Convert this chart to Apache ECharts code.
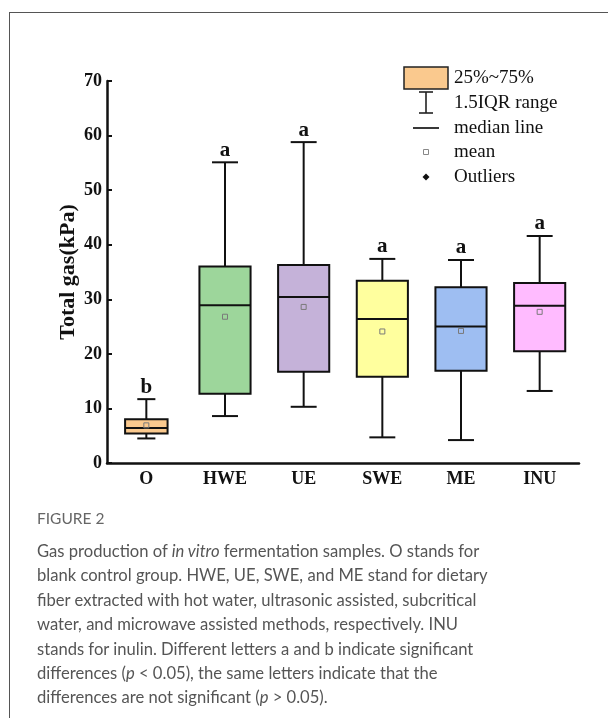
<!DOCTYPE html>
<html>
<head>
<meta charset="utf-8">
<script src="https://cdn.jsdelivr.net/npm/echarts@6/dist/echarts.min.js"></script>
<style>
  html, body { margin: 0; padding: 0; background: #fff; }
  #wrap { position: relative; width: 608px; height: 718px; overflow: hidden; }
  #frame { position: absolute; left: 9px; top: 12px; width: 700px; height: 800px; border: 1.3px solid #555; box-sizing: border-box; }
  #chart { position: absolute; left: 0; top: 0; width: 608px; height: 718px; }
  #figlabel { position: absolute; left: 37px; top: 509px; font-family: Lato, sans-serif; font-size: 15.5px; color: #666; }
  #caption { position: absolute; left: 37px; top: 539px; width: 565px; font-family: Lato, sans-serif; font-size: 16.6px; line-height: 24.4px; color: #555; }
</style>
</head>
<body>
<div id="wrap">
  <div id="frame"></div>
  <div id="chart"></div>
  <div id="figlabel">FIGURE 2</div>
  <div id="caption">Gas production of <i>in vitro</i> fermentation samples. O stands for<br>blank control group. HWE, UE, SWE, and ME stand for dietary<br>fiber extracted with hot water, ultrasonic assisted, subcritical<br>water, and microwave assisted methods, respectively. INU<br>stands for inulin. Different letters a and b indicate significant<br>differences (<i>p</i> &lt; 0.05), the same letters indicate that the<br>differences are not significant (<i>p</i> &gt; 0.05).</div>
</div>
<script>
// ---- data ----
var categories = ['O', 'HWE', 'UE', 'SWE', 'ME', 'INU'];
var whiskerLow = [4.5, 8.6, 10.3, 4.7, 4.2, 13.2];
var q1 = [5.4, 12.7, 16.7, 15.8, 16.9, 20.5];
var median = [6.4, 28.9, 30.4, 26.4, 25.0, 28.8];
var q3 = [8.0, 36.0, 36.3, 33.4, 32.2, 33.0];
var whiskerHigh = [11.7, 55.1, 58.8, 37.4, 37.2, 41.6];
var means = [6.9, 26.8, 28.6, 24.1, 24.2, 27.7];
var letters = ['b', 'a', 'a', 'a', 'a', 'a'];
var yTicks = [0, 10, 20, 30, 40, 50, 60, 70];

// ---- style ----
var boxColors = ['#FAC98E', '#9DD69B', '#C5B2D9', '#FFFF9E', '#9EBEF2', '#FFBBFF'];
var boxWidthFrac = [0.54, 0.65, 0.65, 0.65, 0.65, 0.65];
var capWidthFrac = [0.23, 0.33, 0.33, 0.33, 0.33, 0.33];
var serif = '"Liberation Serif", "Times New Roman", serif';

var seriesData = categories.map(function (c, i) {
  return [i, whiskerLow[i], q1[i], median[i], q3[i], whiskerHigh[i], means[i]];
});

var chart = echarts.init(document.getElementById('chart'), null, { renderer: 'canvas' });

function renderItem(params, api) {
  var idx = api.value(0);
  var band = api.size([1, 0])[0];
  var x = api.coord([idx, 0])[0];
  var pLow = api.coord([idx, api.value(1)])[1];
  var pQ1 = api.coord([idx, api.value(2)])[1];
  var pMed = api.coord([idx, api.value(3)])[1];
  var pQ3 = api.coord([idx, api.value(4)])[1];
  var pHigh = api.coord([idx, api.value(5)])[1];
  var pMean = api.coord([idx, api.value(6)])[1];
  var bw = band * boxWidthFrac[idx];
  var cw = band * capWidthFrac[idx];
  var stroke = { stroke: '#111', lineWidth: 2 };
  return {
    type: 'group',
    children: [
      { type: 'line', shape: { x1: x, y1: pHigh, x2: x, y2: pQ3 }, style: stroke },
      { type: 'line', shape: { x1: x, y1: pLow, x2: x, y2: pQ1 }, style: stroke },
      { type: 'line', shape: { x1: x - cw / 2, y1: pHigh, x2: x + cw / 2, y2: pHigh }, style: stroke },
      { type: 'line', shape: { x1: x - cw / 2, y1: pLow, x2: x + cw / 2, y2: pLow }, style: stroke },
      { type: 'rect', shape: { x: x - bw / 2, y: pQ3, width: bw, height: pQ1 - pQ3 },
        style: { fill: boxColors[idx], stroke: '#111', lineWidth: 2 } },
      { type: 'line', shape: { x1: x - bw / 2, y1: pMed, x2: x + bw / 2, y2: pMed }, style: stroke },
      { type: 'rect', shape: { x: x - 2.5, y: pMean - 2.5, width: 5, height: 5 },
        style: { fill: 'none', stroke: '#7a7a7a', lineWidth: 1 } },
      { type: 'text', x: x, y: pHigh - 12,
        style: { text: letters[idx], fill: '#111', font: 'bold 21px ' + serif, align: 'center', verticalAlign: 'middle' } }
    ]
  };
}

var legendX = 426;
var legendTextX = 454;
var legendRows = [78, 103, 128, 152, 177];
var legendLabels = ['25%~75%', '1.5IQR range', 'median line', 'mean', 'Outliers'];

var graphics = [
  { type: 'rect', shape: { x: 404, y: 67, width: 44, height: 22 }, style: { fill: boxColors[0], stroke: '#222', lineWidth: 1.5 } },
  { type: 'line', shape: { x1: legendX, y1: 92, x2: legendX, y2: 113 }, style: { stroke: '#222', lineWidth: 1.6 } },
  { type: 'line', shape: { x1: legendX - 7, y1: 92, x2: legendX + 7, y2: 92 }, style: { stroke: '#222', lineWidth: 1.6 } },
  { type: 'line', shape: { x1: legendX - 7, y1: 113, x2: legendX + 7, y2: 113 }, style: { stroke: '#222', lineWidth: 1.6 } },
  { type: 'line', shape: { x1: 413, y1: 128, x2: 439, y2: 128 }, style: { stroke: '#222', lineWidth: 1.8 } },
  { type: 'rect', shape: { x: legendX - 2.5, y: 149.5, width: 5, height: 5 }, style: { fill: 'none', stroke: '#888', lineWidth: 1 } },
  { type: 'polygon', shape: { points: [[legendX, 173.5], [legendX + 3.5, 177], [legendX, 180.5], [legendX - 3.5, 177]] }, style: { fill: '#111' } }
];
legendLabels.forEach(function (t, i) {
  graphics.push({ type: 'text', x: legendTextX, y: legendRows[i],
    style: { text: t, fill: '#111', font: '19px ' + serif, verticalAlign: 'middle', align: 'left' } });
});

var option = {
  animation: false,
  backgroundColor: 'transparent',
  grid: { left: 107, right: 29, top: 81, bottom: 255, containLabel: false },
  xAxis: {
    type: 'category',
    data: categories,
    boundaryGap: true,
    axisLine: { lineStyle: { color: '#111', width: 2.5 } },
    axisTick: { inside: true, alignWithLabel: true, length: 5, lineStyle: { color: '#111', width: 2 } },
    axisLabel: { color: '#111', fontFamily: serif, fontWeight: 'bold', fontSize: 18, margin: 7 },
    splitLine: { show: false }
  },
  yAxis: {
    type: 'value',
    min: yTicks[0],
    max: yTicks[yTicks.length - 1],
    interval: yTicks[1] - yTicks[0],
    name: 'Total gas(kPa)',
    nameLocation: 'middle',
    nameGap: 28,
    nameMoveOverlap: false,
    nameTextStyle: { color: '#111', fontFamily: serif, fontWeight: 'bold', fontSize: 22 },
    axisLine: { show: true, lineStyle: { color: '#111', width: 2.5 } },
    axisTick: { show: true, inside: true, length: 5, lineStyle: { color: '#111', width: 2 } },
    axisLabel: { color: '#111', fontFamily: serif, fontWeight: 'bold', fontSize: 18, margin: 5 },
    splitLine: { show: false }
  },
  graphic: graphics,
  series: [{
    type: 'custom',
    renderItem: renderItem,
    encode: { x: 0, y: [1, 2, 3, 4, 5] },
    data: seriesData,
    z: 3
  }]
};
chart.setOption(option);
</script>
</body>
</html>
